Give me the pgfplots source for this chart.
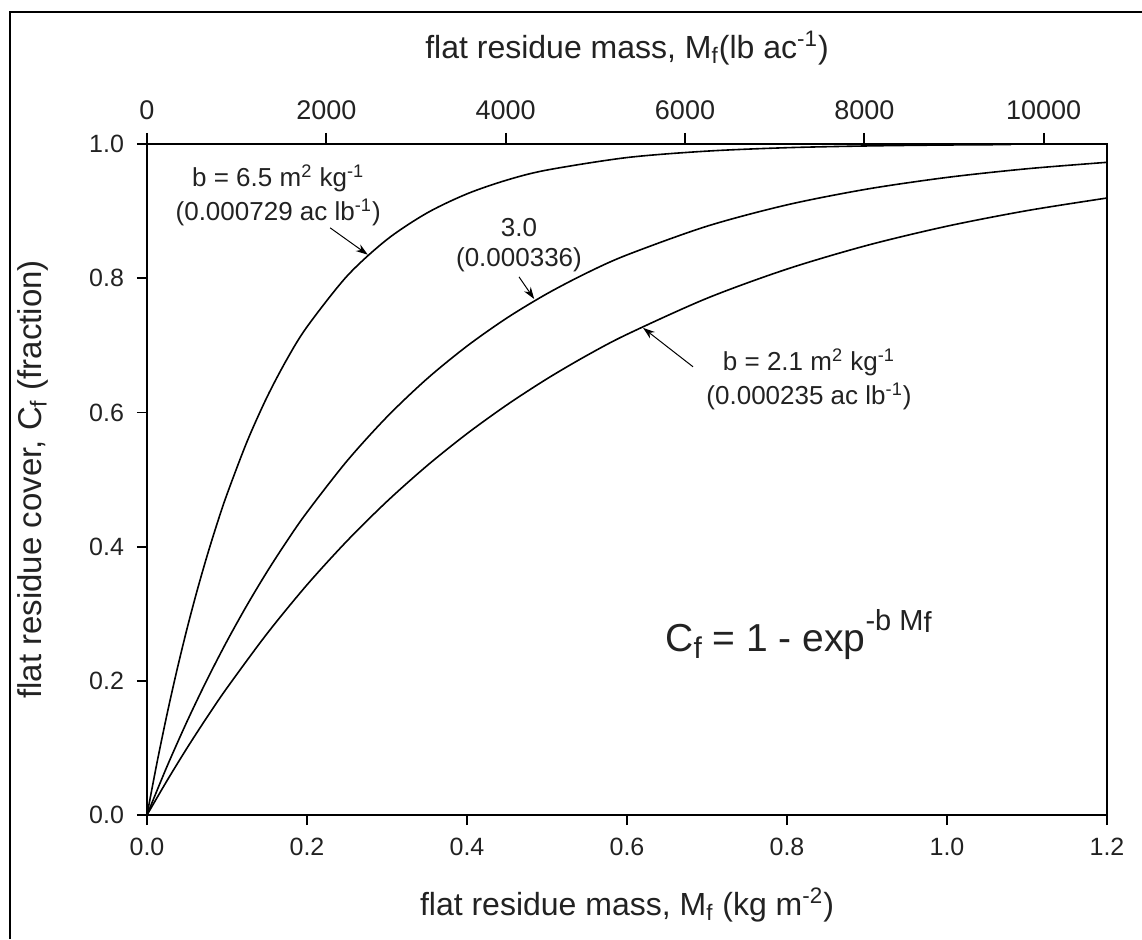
\documentclass[border=0pt]{standalone}
\usepackage{fontspec}
\setmainfont{Liberation Sans}
\usepackage{pgfplots}
\pgfplotsset{compat=1.18}
\usetikzlibrary{arrows.meta}
\definecolor{txt}{HTML}{222222}
\begin{document}
\begin{tikzpicture}
\useasboundingbox (-73.5pt,-62pt) rectangle (497.5pt,407.5pt);
\draw[line width=1.1pt] (-68.5pt,-62pt) -- (-68.5pt,401.5pt) -- (497.5pt,401.5pt);
\begin{axis}[
  at={(0pt,0pt)}, anchor=south west,
  scale only axis, width=480pt, height=335.5pt,
  xmin=0, xmax=1.2, ymin=0, ymax=1,
  axis line style={line width=1.2pt},
  xtick={0,0.2,...,1.2}, ytick={0,0.2,...,1.0},
  xtick pos=left, ytick pos=left,
  tick align=outside,
  major tick length=5pt,
  every tick/.style={line width=0.9pt, black},
  /pgf/number format/assume math mode=true,
  /pgf/number format/.cd, fixed, fixed zerofill, precision=1, /pgfplots/.cd,
  ticklabel style={font=\fontsize{12.5}{14}\selectfont, text=txt},
  xticklabel style={yshift=-3pt},
  yticklabel style={xshift=-3pt},
  xlabel={flat residue mass, M\textsubscript{f} (kg m\textsuperscript{-2})},
  xlabel style={at={(rel axis cs:0.5,0)}, anchor=center, yshift=-45pt, font=\fontsize{16}{18}\selectfont, text=txt},
  ylabel={flat residue cover, C\textsubscript{f} (fraction)},
  ylabel style={at={(axis description cs:-0.1188,0.5)}, anchor=center, font=\fontsize{16.5}{18}\selectfont, text=txt},
  clip=false,
]
% b = 6.5
\addplot[black, line width=0.8pt, smooth] coordinates {
(0,0) (0.0125,0.0780) (0.025,0.1500) (0.0375,0.2163) (0.05,0.2775) (0.0625,0.3338) (0.075,0.3858) (0.0875,0.4338)
(0.1,0.4780) (0.125,0.5563) (0.15,0.6228) (0.175,0.6794) (0.2,0.7275) (0.25,0.8031) (0.3,0.8577)
(0.35,0.8972) (0.4,0.9257) (0.45,0.9463) (0.5,0.9612) (0.6,0.9798) (0.7,0.9894) (0.8,0.9945)
(0.9,0.9971) (1.0,0.9985) (1.08,0.9991)
};
% b = 3.0
\addplot[black, line width=0.8pt, smooth] coordinates {
(0,0) (0.025,0.0723) (0.05,0.1393) (0.075,0.2015) (0.1,0.2592) (0.125,0.3127) (0.15,0.3624) (0.175,0.4084)
(0.2,0.4512) (0.25,0.5276) (0.3,0.5934) (0.35,0.6501) (0.4,0.6988) (0.45,0.7408) (0.5,0.7769)
(0.55,0.8080) (0.6,0.8347) (0.7,0.8775) (0.8,0.9093) (0.9,0.9328) (1.0,0.9502) (1.1,0.9631) (1.2,0.9727)
};
% b = 2.1
\addplot[black, line width=0.8pt, smooth] coordinates {
(0,0) (0.025,0.0511) (0.05,0.0997) (0.075,0.1457) (0.1,0.1894) (0.15,0.2702) (0.2,0.3430) (0.25,0.4084)
(0.3,0.4674) (0.35,0.5205) (0.4,0.5683) (0.45,0.6113) (0.5,0.6501) (0.55,0.6850) (0.6,0.7163)
(0.7,0.7701) (0.8,0.8136) (0.9,0.8489) (1.0,0.8775) (1.1,0.9007) (1.2,0.9195)
};
\node[align=center, text=txt, font=\fontsize{13}{17}\selectfont] at (axis cs:0.164,0.924)
  {b = 6.5 m\textsuperscript{2} kg\textsuperscript{-1}\\(0.000729 ac lb\textsuperscript{-1})};
\draw[-{Stealth[length=6pt,width=4pt]}, line width=0.5pt] (axis cs:0.229,0.875) -- (axis cs:0.276,0.835);
\node[align=center, text=txt, font=\fontsize{13}{15}\selectfont] at (axis cs:0.465,0.849)
  {3.0\\(0.000336)};
\draw[-{Stealth[length=6pt,width=4pt]}, line width=0.5pt] (axis cs:0.465,0.802) -- (axis cs:0.484,0.769);
\node[align=center, text=txt, font=\fontsize{13}{17}\selectfont] at (axis cs:0.8275,0.649)
  {b = 2.1 m\textsuperscript{2} kg\textsuperscript{-1}\\(0.000235 ac lb\textsuperscript{-1})};
\draw[-{Stealth[length=6pt,width=4pt]}, line width=0.5pt] (axis cs:0.6825,0.668) -- (axis cs:0.62,0.726);
\node[anchor=base west, inner sep=0pt, text=txt, font=\fontsize{19.5}{22}\selectfont] at (axis cs:0.6475,0.243)
  {C\raisebox{-0.3ex}{\fontsize{15}{15}\selectfont f} = 1 - exp\raisebox{1.05ex}{\fontsize{14.5}{14}\selectfont -b M\raisebox{-0.15ex}{f}}};
\end{axis}
\begin{axis}[
  at={(0pt,0pt)}, anchor=south west,
  scale only axis, width=480pt, height=335.5pt,
  xmin=0, xmax=10706, ymin=0, ymax=1,
  axis x line*=top, axis y line=none,
  axis line style={line width=1.2pt},
  xtick={0,2000,...,10000},
  tick align=outside,
  major tick length=5.5pt,
  every tick/.style={line width=0.9pt, black},
  /pgf/number format/assume math mode=true,
  /pgf/number format/.cd, fixed, 1000 sep={}, /pgfplots/.cd,
  scaled x ticks=false,
  ticklabel style={font=\fontsize{13.5}{15}\selectfont, text=txt},
  xticklabel style={yshift=3pt},
  xlabel={flat residue mass, M\textsubscript{f}(lb ac\textsuperscript{-1})},
  xlabel style={at={(rel axis cs:0.5,1)}, anchor=center, yshift=48pt, font=\fontsize{16}{18}\selectfont, text=txt},
]
\end{axis}
\end{tikzpicture}
\end{document}
